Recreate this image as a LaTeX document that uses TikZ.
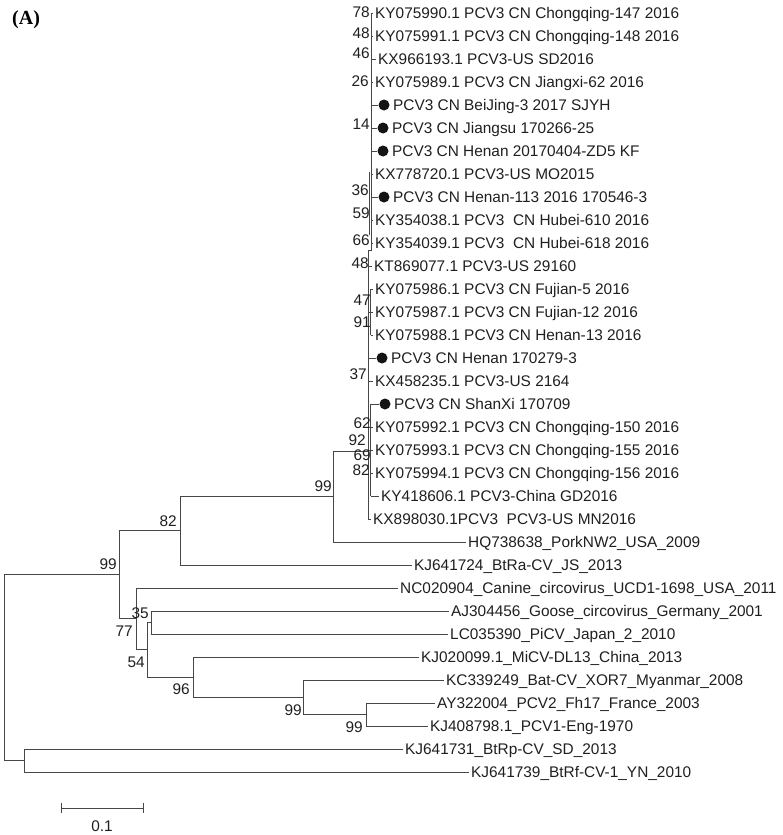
\documentclass[tikz,border=0pt]{standalone}
\usepackage{fontspec}
\setmainfont{Liberation Sans}
\newfontfamily\serifbold{Liberation Serif}
\begin{document}
\begin{tikzpicture}[x=1pt,y=-1pt,
  br/.style={draw=black!72, line width=0.9pt},
  leaf/.style={anchor=west, inner xsep=2pt, inner ysep=0pt, text height=11pt, text depth=0pt, font=\fontsize{15.4}{17}\selectfont, text=black!88},
  bs/.style={anchor=east, inner sep=0pt, text height=11pt, text depth=0pt, font=\fontsize{15.4}{17}\selectfont, text=black!88},
  dotnode/.style={circle, fill=black!92, inner sep=0pt, minimum size=11pt}]
\useasboundingbox (0,0) rectangle (782,835);

% panel label
\node[anchor=west, inner sep=0pt, font=\serifbold\bfseries\fontsize{20}{22}\selectfont] (panel) at (12,20) {(A)};

% ---------- PCV3 cluster leaves ----------
\node[leaf] (l0) at (373,13) {KY075990.1 PCV3 CN Chongqing-147 2016};
\node[leaf] (l1) at (373,36) {KY075991.1 PCV3 CN Chongqing-148 2016};
\node[leaf] (l2) at (376,59) {KX966193.1 PCV3-US SD2016};
\node[leaf] (l3) at (373,82) {KY075989.1 PCV3 CN Jiangxi-62 2016};
\node[dotnode] (d4) at (384,105) {}; \node[leaf] (l4) at (391,105) {PCV3 CN BeiJing-3 2017 SJYH};
\node[dotnode] (d5) at (383,128) {}; \node[leaf] (l5) at (390,128) {PCV3 CN Jiangsu 170266-25};
\node[dotnode] (d6) at (383,151) {}; \node[leaf] (l6) at (390,151) {PCV3 CN Henan 20170404-ZD5 KF};
\node[leaf] (l7) at (373,174) {KX778720.1 PCV3-US MO2015};
\node[dotnode] (d8) at (384,197) {}; \node[leaf] (l8) at (391,197) {PCV3 CN Henan-113 2016 170546-3};
\node[leaf] (l9) at (373,220) {KY354038.1 PCV3\ \ CN Hubei-610 2016};
\node[leaf] (l10) at (373,243) {KY354039.1 PCV3\ \ CN Hubei-618 2016};
\node[leaf] (l11) at (372,266) {KT869077.1 PCV3-US 29160};
\node[leaf] (l12) at (373,289) {KY075986.1 PCV3 CN Fujian-5 2016};
\node[leaf] (l13) at (373,312) {KY075987.1 PCV3 CN Fujian-12 2016};
\node[leaf] (l14) at (373,335) {KY075988.1 PCV3 CN Henan-13 2016};
\node[dotnode] (d15) at (382,358) {}; \node[leaf] (l15) at (389,358) {PCV3 CN Henan 170279-3};
\node[leaf] (l16) at (373,381) {KX458235.1 PCV3-US 2164};
\node[dotnode] (d17) at (385,404) {}; \node[leaf] (l17) at (392,404) {PCV3 CN ShanXi 170709};
\node[leaf] (l18) at (373,427) {KY075992.1 PCV3 CN Chongqing-150 2016};
\node[leaf] (l19) at (373,450) {KY075993.1 PCV3 CN Chongqing-155 2016};
\node[leaf] (l20) at (373,473) {KY075994.1 PCV3 CN Chongqing-156 2016};
\node[leaf] (l21) at (379,496) {KY418606.1 PCV3-China GD2016};
\node[leaf] (l22) at (371,519) {KX898030.1PCV3\ \ PCV3-US MN2016};

% ---------- other leaves ----------
\node[leaf] (l23) at (466,542) {HQ738638\_PorkNW2\_USA\_2009};
\node[leaf] (l24) at (412,565) {KJ641724\_BtRa-CV\_JS\_2013};
\node[leaf] (l25) at (398,588) {NC020904\_Canine\_circovirus\_UCD1-1698\_USA\_2011};
\node[leaf] (l26) at (449,611) {AJ304456\_Goose\_circovirus\_Germany\_2001};
\node[leaf] (l27) at (448,634) {LC035390\_PiCV\_Japan\_2\_2010};
\node[leaf] (l28) at (419,657) {KJ020099.1\_MiCV-DL13\_China\_2013};
\node[leaf] (l29) at (444,680) {KC339249\_Bat-CV\_XOR7\_Myanmar\_2008};
\node[leaf] (l30) at (435,703) {AY322004\_PCV2\_Fh17\_France\_2003};
\node[leaf] (l31) at (428,726) {KJ408798.1\_PCV1-Eng-1970};
\node[leaf] (l32) at (403,749) {KJ641731\_BtRp-CV\_SD\_2013};
\node[leaf] (l33) at (469,772) {KJ641739\_BtRf-CV-1\_YN\_2010};

% ---------- internal nodes ----------
\coordinate (n366) at (366,714.5);
\coordinate (n303) at (303,697.25);
\coordinate (n193) at (193,677.1);
\coordinate (n151) at (151,622.5);
\coordinate (n147) at (147,649.8);
\coordinate (n136) at (136,618.9);
\coordinate (c92) at (368,451);
\coordinate (n333) at (333,496.5);
\coordinate (n180) at (180,530.75);
\coordinate (n119) at (119,574.8);
\coordinate (nBat) at (24,760.5);
\coordinate (nR) at (4,667.7);

% cluster backbones
\coordinate (vAt) at (371,13);  \coordinate (vAb) at (371,250);
\coordinate (vBt) at (368,250); \coordinate (vBb) at (368,519);
\coordinate (vEt) at (369.5,172); \coordinate (vEb) at (369.5,235);
\coordinate (vCt) at (370.5,289); \coordinate (vCb) at (370.5,335);
\coordinate (vDt) at (370.5,404); \coordinate (vDb) at (370.5,496);

\draw[br] (vAt) -- (vAb) -- (vBt) -- (vBb);
\draw[br] (vEt) -- (vEb);
\draw[br] (vCt) -- (vCb);
\draw[br] (vDt) -- (vDb);
\draw[br] (vBt |- l13.west) -- (vCt |- l13.west);
\draw[br] (vBt |- l19.west) -- (vDt |- l19.west);

% ticks to cluster leaves
\foreach \n in {l0,l1,l2,l3,d4,d5,d6,l7,d8,l9,l10}
  \draw[br] (vAt |- \n.west) -- (\n.west);
\foreach \n in {l11,d15,l16,l22}
  \draw[br] (vBt |- \n.west) -- (\n.west);
\foreach \n in {l12,l13,l14}
  \draw[br] (vCt |- \n.west) -- (\n.west);
\foreach \n in {d17,l18,l19,l20,l21}
  \draw[br] (vDt |- \n.west) -- (\n.west);

% tree branches
\draw[br] (n366) |- (l30.west);
\draw[br] (n366) |- (l31.west);
\draw[br] (n303) |- (l29.west);
\draw[br] (n303) |- (n366);
\draw[br] (n193) |- (l28.west);
\draw[br] (n193) |- (n303);
\draw[br] (n151) |- (l26.west);
\draw[br] (n151) |- (l27.west);
\draw[br] (n147) |- (n151);
\draw[br] (n147) |- (n193);
\draw[br] (n136) |- (l25.west);
\draw[br] (n136) |- (n147);
\draw[br] (n333) |- (c92);
\draw[br] (n333) |- (l23.west);
\draw[br] (n180) |- (n333);
\draw[br] (n180) |- (l24.west);
\draw[br] (n119) |- (n180);
\draw[br] (n119) |- (n136);
\draw[br] (nBat) |- (l32.west);
\draw[br] (nBat) |- (l33.west);
\draw[br] (nR) |- (n119);
\draw[br] (nR) |- (nBat);

% ---------- bootstrap values ----------
\node[bs] (b1) at (370,12) {78};
\node[bs] (b2) at (370,33) {48};
\node[bs] (b3) at (370,53) {46};
\node[bs] (b4) at (369,81) {26};
\node[bs] (b5) at (370,124) {14};
\node[bs] (b6) at (369,190) {36};
\node[bs] (b7) at (370,213) {59};
\node[bs] (b8) at (370,240) {66};
\node[bs] (b9) at (369,263) {48};
\node[bs] (b10) at (371,300) {47};
\node[bs] (b11) at (371,322) {91};
\node[bs] (b12) at (367,374) {37};
\node[bs] (b13) at (371,423) {62};
\node[bs] (b14) at (366,440) {92};
\node[bs] (b15) at (371,455) {69};
\node[bs] (b16) at (370,470) {82};
\node[bs] (b17) at (332,486) {99};
\node[bs] (b18) at (177,521) {82};
\node[bs] (b19) at (117,564) {99};
\node[bs] (b20) at (149,612.5) {35};
\node[bs] (b21) at (133,631) {77};
\node[bs] (b22) at (145,661.5) {54};
\node[bs] (b23) at (190,688.5) {96};
\node[bs] (b24) at (302,710) {99};
\node[bs] (b25) at (363,726.5) {99};

% ---------- scale bar ----------
\coordinate (sb1) at (61,808);
\coordinate (sb2) at (143,808);
\draw[br] (sb1) -- (sb2);
\draw[br] ([yshift=-5pt]sb1) -- ([yshift=5pt]sb1);
\draw[br] ([yshift=-5pt]sb2) -- ([yshift=5pt]sb2);
\node[inner sep=0pt, text height=11pt, text depth=0pt, font=\fontsize{15.4}{17}\selectfont, text=black!88] (sbl) at (102,826) {0.1};
\end{tikzpicture}
\end{document}
